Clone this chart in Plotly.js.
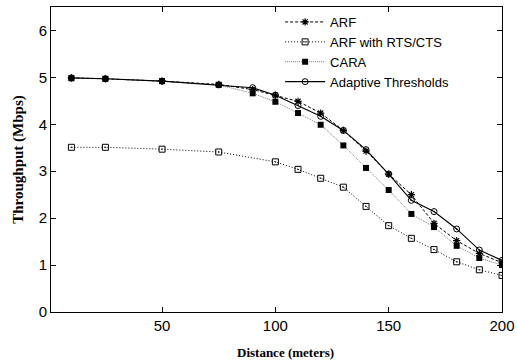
<!DOCTYPE html>
<html>
<head>
<meta charset="utf-8">
<script src="https://cdn.plot.ly/plotly-3.0.1.min.js"></script>
<style>html,body{margin:0;padding:0;background:#fff;}#chart{width:517px;height:360px;}</style>
</head>
<body>
<div id="chart"></div>
<script>
const distAll = [10, 25, 50, 75, 90, 100, 110, 120, 130, 140, 150, 160, 170, 180, 190, 200];
const distRts = [10, 25, 50, 75, 100, 110, 120, 130, 140, 150, 160, 170, 180, 190, 200];
const arf = [4.99, 4.97, 4.92, 4.85, 4.74, 4.62, 4.49, 4.24, 3.87, 3.43, 2.94, 2.50, 1.89, 1.52, 1.25, 1.05];
const arfRts = [3.51, 3.51, 3.47, 3.41, 3.20, 3.04, 2.85, 2.66, 2.25, 1.84, 1.57, 1.33, 1.07, 0.90, 0.78];
const cara = [4.98, 4.97, 4.92, 4.84, 4.66, 4.48, 4.24, 3.99, 3.55, 3.07, 2.60, 2.09, 1.81, 1.41, 1.15, 1.00];
const adaptive = [4.99, 4.97, 4.92, 4.84, 4.78, 4.62, 4.40, 4.17, 3.87, 3.46, 2.94, 2.38, 2.14, 1.77, 1.32, 1.10];
const names = ["ARF", "ARF with RTS/CTS", "CARA", "Adaptive Thresholds"];
const xTicks = [50, 100, 150, 200];
const yTicks = [0, 1, 2, 3, 4, 5, 6];

const traces = [
  {x: distAll, y: arf, name: names[0], mode: "lines+markers",
   line: {color: "#000", width: 1, dash: "3px,2px"},
   marker: {symbol: "asterisk-open", size: 6, color: "#000", line: {color: "#000", width: 1.2}}},
  {x: distRts, y: arfRts, name: names[1], mode: "lines+markers",
   line: {color: "#000", width: 1, dash: "1px,2px"},
   marker: {symbol: "square-open-dot", size: 6, color: "#000", line: {color: "#000", width: 1}}},
  {x: distAll, y: cara, name: names[2], mode: "lines+markers",
   line: {color: "#555", width: 0.8, dash: "1px,1px"},
   marker: {symbol: "square", size: 6, color: "#000"}},
  {x: distAll, y: adaptive, name: names[3], mode: "lines+markers",
   line: {color: "#000", width: 1.1},
   marker: {symbol: "circle-open-dot", size: 6, color: "#000", line: {color: "#000", width: 1}}}
];

const layout = {
  width: 517, height: 360,
  margin: {l: 51, r: 15, t: 7, b: 48},
  paper_bgcolor: "#fff", plot_bgcolor: "#fff",
  font: {family: "Liberation Sans, Arial, sans-serif", size: 15, color: "#000"},
  showlegend: true,
  legend: {x: 0.508, y: 1.0, xanchor: "left", yanchor: "top", bgcolor: "rgba(0,0,0,0)",
           font: {family: "Liberation Sans, Arial, sans-serif", size: 13}, tracegroupgap: 0, itemwidth: 40},
  xaxis: {range: [1, 200], tickvals: xTicks, ticktext: xTicks.map(String), ticks: "inside", ticklen: 5,
          tickcolor: "#000", showline: true, linecolor: "#000", linewidth: 1, mirror: "ticks",
          showgrid: false, zeroline: false},
  yaxis: {range: [0, 6.5], tickvals: yTicks, ticktext: yTicks.map(String), ticks: "inside", ticklen: 5,
          tickcolor: "#000", showline: true, linecolor: "#000", linewidth: 1, mirror: "ticks",
          showgrid: false, zeroline: false,
          title: {text: "Throughput (Mbps)", font: {family: "Liberation Serif, Times New Roman, serif", size: 15, weight: "bold"}, standoff: 11}},
  annotations: [
    {text: "<b>Distance (meters)</b>", xref: "paper", yref: "paper", x: 0.52, y: 0, yshift: -40,
     xanchor: "center", yanchor: "middle", showarrow: false,
     font: {family: "Liberation Serif, Times New Roman, serif", size: 13, color: "#000"}}
  ]
};

Plotly.newPlot("chart", traces, layout, {displayModeBar: false, staticPlot: true});
</script>
</body>
</html>
